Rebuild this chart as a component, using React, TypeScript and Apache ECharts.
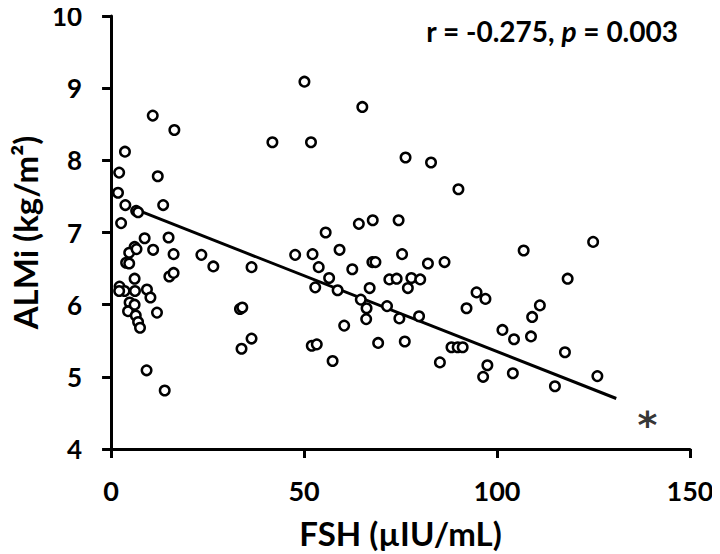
import React, { useEffect, useRef } from "react";
import * as echarts from "echarts";

// FSH (µIU/mL) values of the subjects
const fsh: number[] = [
  10.8, 16.4, 3.6, 2.1, 12.1, 1.8, 3.7, 13.5, 6.5, 7.0, 2.6, 8.7, 14.9, 6.1, 4.7, 6.6, 10.9, 16.2, 23.4, 26.5,
  3.9, 4.7, 15.1, 16.2, 6.1, 2.2, 3.5, 6.2, 9.3, 10.2, 4.8, 4.4, 11.9, 6.4, 7.0, 7.5, 9.2, 13.9, 2.1, 6.1,
  33.4, 34.0, 33.8, 36.4, 36.4, 50.1, 65.1, 41.8, 51.8, 76.3, 82.9, 90.0, 55.6, 64.2, 67.8, 74.5, 47.7, 52.2, 59.2, 53.8,
  56.5, 52.9, 58.7, 62.5, 67.7, 68.5, 75.4, 82.1, 86.4, 72.1, 74.0, 77.8, 80.1, 76.9, 67.0, 64.7, 66.2, 71.5, 66.1, 74.7,
  79.8, 52.0, 53.3, 60.4, 69.2, 76.1, 57.4, 85.2, 88.2, 89.8, 91.1, 92.1, 94.7, 97.0, 106.9, 124.9, 118.3, 111.1, 109.1, 101.4,
  104.4, 108.8, 117.6, 97.5, 96.4, 104.1, 115.0, 126.0,
];

// ALMi (kg/m²) values of the same subjects
const almi: number[] = [
  8.62, 8.42, 8.12, 7.83, 7.78, 7.55, 7.38, 7.38, 7.30, 7.28, 7.13, 6.92, 6.93, 6.80, 6.72, 6.77, 6.76, 6.70, 6.69, 6.53,
  6.58, 6.57, 6.39, 6.44, 6.36, 6.25, 6.19, 6.19, 6.21, 6.10, 6.03, 5.91, 5.89, 5.85, 5.76, 5.68, 5.09, 4.81, 6.19, 6.00,
  5.94, 5.96, 5.39, 6.52, 5.53, 9.09, 8.74, 8.25, 8.25, 8.04, 7.97, 7.60, 7.00, 7.12, 7.17, 7.17, 6.69, 6.70, 6.76, 6.52,
  6.37, 6.24, 6.20, 6.49, 6.59, 6.59, 6.70, 6.57, 6.59, 6.35, 6.36, 6.37, 6.35, 6.23, 6.23, 6.07, 5.95, 5.98, 5.80, 5.81,
  5.84, 5.43, 5.45, 5.71, 5.47, 5.49, 5.22, 5.20, 5.41, 5.41, 5.41, 5.95, 6.17, 6.08, 6.75, 6.87, 6.36, 5.99, 5.83, 5.65,
  5.52, 5.56, 5.34, 5.16, 5.00, 5.05, 4.87, 5.01,
];

// Regression line end points
const regX: number[] = [5.4, 130.9];
const regY: number[] = [7.34, 4.7];

// Significance marker position
const starX = 139;
const starY = 4.45;

const xTicks = { min: 0, max: 150, interval: 50 };
const yTicks = { min: 4, max: 10, interval: 1 };

const statText = { r: "-0.275", p: "0.003" };

export default function App() {
  const ref = useRef<HTMLDivElement>(null);

  useEffect(() => {
    if (!ref.current) return;
    const chart = echarts.init(ref.current, null, { renderer: "svg" });
    const font = "Lato, 'Open Sans', sans-serif";
    const axisCommon = {
      axisLine: { show: true, lineStyle: { color: "#000", width: 3 } },
      axisTick: { show: true, length: 9, lineStyle: { color: "#000", width: 3 } },
      splitLine: { show: false },
      axisLabel: { color: "#000", fontFamily: font, fontWeight: "bold" as const, fontSize: 27 },
      nameTextStyle: { color: "#000", fontFamily: font, fontWeight: "bold" as const, fontSize: 33 },
    };
    chart.setOption({
      animation: false,
      backgroundColor: "#fff",
      grid: { left: 107, right: 30, top: 16, bottom: 103 },
      xAxis: {
        type: "value",
        ...xTicks,
        ...axisCommon,
        axisLabel: { ...axisCommon.axisLabel, margin: 28 },
        name: "FSH (µIU/mL)",
        nameLocation: "middle",
        nameGap: 67,
      },
      yAxis: {
        type: "value",
        ...yTicks,
        ...axisCommon,
        axisLabel: { ...axisCommon.axisLabel, fontSize: 26, margin: 29, lineHeight: 22 },
        name: "ALMi (kg/m²)",
        nameLocation: "middle",
        nameGap: 63,
      },
      graphic: [
        {
          type: "text",
          x: 678,
          y: 31,
          style: {
            text: `{a|r = ${statText.r}, }{b|p}{a| = ${statText.p}}`,
            align: "right",
            verticalAlign: "middle",
            rich: {
              a: { fontFamily: font, fontWeight: "bold", fontSize: 28, fill: "#000" },
              b: { fontFamily: font, fontWeight: "bold", fontStyle: "italic", fontSize: 28, fill: "#000" },
            },
          },
        },
      ],
      series: [
        {
          type: "line",
          data: regX.map((x, i) => [x, regY[i]]),
          symbol: "none",
          lineStyle: { color: "#000", width: 3 },
          z: 1,
        },
        {
          type: "scatter",
          data: fsh.map((x, i) => [x, almi[i]]),
          symbol: "circle",
          symbolSize: 9.5,
          itemStyle: { color: "#fff", borderColor: "#000", borderWidth: 2.5, opacity: 1 },
          z: 2,
        },
        {
          type: "scatter",
          data: [[starX, starY]],
          symbolSize: 0,
          label: {
            show: true,
            formatter: "*",
            position: "inside",
            color: "#000",
            fontFamily: "'DejaVu Sans', sans-serif",
            fontWeight: "bold",
            fontSize: 38,
            offset: [0, 8],
          },
          z: 3,
        },
      ],
    });
    return () => chart.dispose();
  }, []);

  return <div ref={ref} style={{ width: 720, height: 554, marginLeft: -8, marginTop: -8 }} />;
}
